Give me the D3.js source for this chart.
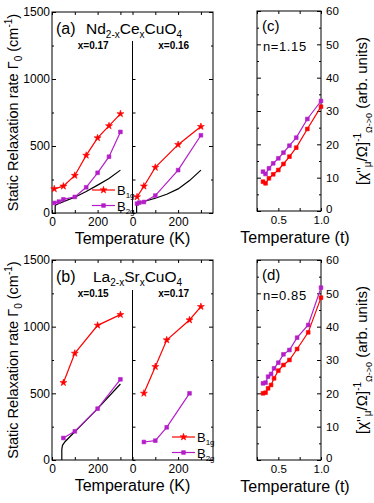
<!DOCTYPE html>
<html>
<head>
<meta charset="utf-8">
<script src="https://cdn.jsdelivr.net/npm/d3@7"></script>
<style>
  body { margin: 0; background: #fff; }
  svg { display: block; font-family: "Liberation Sans", Arial, sans-serif; }
</style>
</head>
<body>
<svg id="chart" width="374" height="503"></svg>
<script>
// (a) Nd2-xCexCuO4, x=0.17
const ncco17T_b1g = [10, 50, 100, 150, 200, 250, 300];
const ncco17_b1g  = [180, 200, 280, 430, 560, 650, 740];
const ncco17T_b2g = [10, 30, 50, 100, 150, 200, 250, 300];
const ncco17_b2g  = [75, 85, 102, 120, 192, 300, 420, 605];
const ncco17T_fit = [14, 14, 18, 50, 100, 150, 200, 250, 300];
const ncco17_fit  = [0, 52, 62, 85, 118, 160, 208, 258, 320];
// (a) x=0.16
const ncco16T_b1g = [20, 50, 100, 200, 300];
const ncco16_b1g  = [120, 200, 340, 510, 645];
const ncco16T_b2g = [20, 30, 50, 100, 200, 300];
const ncco16_b2g  = [70, 78, 82, 130, 320, 580];
const ncco16T_fit = [18, 18, 22, 50, 100, 150, 200, 250, 300];
const ncco16_fit  = [0, 55, 66, 87, 110, 140, 180, 242, 320];

// (b) La2-xSrxCuO4, x=0.15
const lsco15T_b1g = [50, 100, 200, 300];
const lsco15_b1g  = [580, 800, 1010, 1090];
const lsco15T_b2g = [50, 100, 200, 300];
const lsco15_b2g  = [165, 215, 385, 605];
const lsco15T_fit = [43, 43, 46, 57, 100, 200, 300];
const lsco15_fit  = [0, 80, 110, 137, 212, 385, 570];
// (b) x=0.17
const lsco17T_b1g = [50, 100, 150, 250, 300];
const lsco17_b1g  = [500, 700, 900, 1050, 1150];
const lsco17T_b2g = [50, 100, 150, 250];
const lsco17_b2g  = [135, 145, 245, 500];

// (c) n=1.15
const tC      = [0.32, 0.35, 0.39, 0.44, 0.5, 0.56, 0.63, 0.71, 0.84, 1.0];
const cB2g    = [11.8, 11.1, 12.8, 14.3, 15.8, 17.5, 19.6, 22.0, 27.6, 33.0];
const cB1g    = [8.8, 8.3, 9.8, 11.0, 12.3, 14.1, 16.3, 19.0, 24.6, 31.3];
// (d) n=0.85
const tD      = [0.32, 0.35, 0.38, 0.415, 0.45, 0.5, 0.56, 0.63, 0.72, 0.85, 1.0];
const dB2g    = [23.0, 23.2, 25.0, 25.8, 27.5, 29.2, 31.7, 33.0, 36.7, 40.5, 51.7];
const dB1g    = [20.0, 20.2, 21.5, 22.5, 24.5, 26.8, 28.5, 30.0, 33.3, 38.3, 48.7];

const kTicks = [0, 100, 200, 300];
const kLabels = [0, 200];
const gammaTicks = [0, 250, 500, 750, 1000, 1250, 1500];
const gammaLabels = [0, 500, 1000, 1500];
const tTicks = [0.25, 0.5, 0.75, 1.0];
const tLabels = [0.5, 1.0];
const chiTicks = [0, 5, 10, 15, 20, 25, 30, 35, 40, 45, 50, 55, 60];
const chiLabels = [0, 10, 20, 30, 40, 50, 60];

const RED = "#ff0000";
const PURPLE = "#b41ec8";
const STAR = 15, SQUARE = 14;

const svg = d3.select("#chart");
const zip = (xs, ys) => xs.map((x, i) => [x, ys[i]]);

function series(g, x, y, pts, color, shape, withMarks) {
  const line = d3.line().x(d => x(d[0])).y(d => y(d[1]));
  g.append("path").attr("d", line(pts)).attr("fill", "none")
    .attr("stroke", color).attr("stroke-width", 1.2);
  if (!withMarks) return;
  const sym = d3.symbol().type(shape === "star" ? d3.symbolStar : d3.symbolSquare)
    .size(shape === "star" ? STAR : SQUARE);
  g.selectAll(null).data(pts).enter().append("path")
    .attr("d", sym)
    .attr("transform", d => `translate(${x(d[0])},${y(d[1])})`)
    .attr("fill", color).attr("stroke", color).attr("stroke-width", 0.6);
}

function legend(g, x0, y0) {
  const items = [["1g", RED, d3.symbolStar, STAR], ["2g", PURPLE, d3.symbolSquare, SQUARE]];
  items.forEach((it, i) => {
    const yy = y0 + i * 15.5;
    g.append("line").attr("x1", x0).attr("x2", x0 + 23).attr("y1", yy).attr("y2", yy)
      .attr("stroke", it[1]).attr("stroke-width", 1.2);
    g.append("path").attr("d", d3.symbol().type(it[2]).size(it[3]))
      .attr("transform", `translate(${x0 + 11.5},${yy})`)
      .attr("fill", it[1]).attr("stroke", it[1]).attr("stroke-width", 0.6);
    const t = g.append("text").attr("x", x0 + 25).attr("y", yy + 5)
      .attr("font-size", 13).text("B");
    t.append("tspan").attr("font-size", 8).attr("dy", 3).text(it[0]);
  });
}

// panel with two temperature (K) subpanels
function kPanel(opts) {
  const { left, mid, right, top, bottom } = opts;
  const y = d3.scaleLinear().domain([0, 1500]).range([bottom, top]);
  const xL = d3.scaleLinear().domain([0, 353]).range([left, mid]);
  const xR = d3.scaleLinear().domain([0, 353]).range([mid, right]);
  const g = svg.append("g");

  [xL, xR].forEach(x => {
    g.append("g").attr("transform", `translate(0,${bottom})`)
      .call(d3.axisBottom(x).tickValues(kTicks).tickSize(-3).tickPadding(4)
        .tickFormat(d => kLabels.includes(d) ? d : ""))
      .call(a => a.select(".domain").remove())
      .call(a => a.selectAll("text").attr("font-size", 12).attr("fill", "#000"));
    g.append("g").attr("transform", `translate(0,${top})`)
      .call(d3.axisTop(x).tickValues(kTicks).tickSize(-3).tickFormat(""))
      .call(a => a.select(".domain").remove());
  });

  g.append("g").attr("transform", `translate(${left},0)`)
    .call(d3.axisLeft(y).tickValues(gammaTicks).tickSize(-4).tickPadding(2)
      .tickFormat(d => gammaLabels.includes(d) ? d : ""))
    .call(a => a.select(".domain").remove())
    .call(a => a.selectAll("line").attr("x2", d => gammaLabels.includes(d) ? 4 : 2))
    .call(a => a.selectAll("text").attr("font-size", 12).attr("fill", "#000"));
  g.append("g").attr("transform", `translate(${right},0)`)
    .call(d3.axisRight(y).tickValues(gammaTicks).tickSize(-4).tickFormat(""))
    .call(a => a.select(".domain").remove())
    .call(a => a.selectAll("line").attr("x2", d => gammaLabels.includes(d) ? -4 : -2));
  g.append("g").attr("transform", `translate(${mid},0)`)
    .call(d3.axisRight(y).tickValues(gammaTicks.filter(v => v < 1250)).tickSize(3).tickFormat(""))
    .call(a => a.select(".domain").remove());

  g.append("rect").attr("x", left).attr("y", top).attr("width", right - left)
    .attr("height", bottom - top).attr("fill", "none").attr("stroke", "#000");
  g.append("line").attr("x1", mid).attr("x2", mid).attr("y1", opts.divTop).attr("y2", bottom)
    .attr("stroke", "#000");

  opts.fits.forEach(f => series(g, f.side === "L" ? xL : xR, y, f.pts, "#000", null, false));
  opts.data.forEach(s => series(g, s.side === "L" ? xL : xR, y, s.pts, s.color, s.shape, true));

  // sample labels
  opts.samples.forEach(s => {
    g.append("text").attr("x", (s.side === "L" ? (left + mid) / 2 : (mid + right) / 2) + 1)
      .attr("y", top + 37).attr("text-anchor", "middle")
      .attr("font-size", 10).attr("font-weight", "bold").text(s.label);
  });

  // panel title
  g.append("text").attr("x", left + 4).attr("y", top + 22).attr("font-size", 16).text(opts.tag);
  const f = g.append("text").attr("x", opts.formulaX).attr("y", top + 22).attr("font-size", 15.5);
  opts.formula.forEach(p => {
    if (p[1]) f.append("tspan").attr("font-size", 10).attr("dy", 4).text(p[0]);
    else f.append("tspan").attr("dy", p[2] || 0).text(p[0]);
  });

  // axis titles
  const yt = g.append("text")
    .attr("transform", `translate(18,${(top + bottom) / 2}) rotate(-90)`)
    .attr("text-anchor", "middle").attr("font-size", 14.5);
  yt.append("tspan").text("Static Relaxation rate \u0393");
  yt.append("tspan").attr("font-size", 10).attr("dy", 4).text("0");
  yt.append("tspan").attr("dy", -4).text(" (cm");
  yt.append("tspan").attr("font-size", 10).attr("dy", -6).text("-1");
  yt.append("tspan").attr("dy", 6).text(")");

  g.append("text").attr("x", (left + right) / 2).attr("y", bottom + 31)
    .attr("text-anchor", "middle").attr("font-size", 16).text("Temperature (K)");

  return { g, xL, xR, y };
}

function tPanel(opts) {
  const { left, right, top, bottom } = opts;
  const x = d3.scaleLinear().domain([0.25, 1.0]).range([left, right]);
  const y = d3.scaleLinear().domain([0, 60]).range([bottom, top]);
  const g = svg.append("g");

  g.append("g").attr("transform", `translate(0,${bottom})`)
    .call(d3.axisBottom(x).tickValues(tTicks).tickSize(-3).tickPadding(5)
      .tickFormat(d => tLabels.includes(d) ? d3.format(".1f")(d) : ""))
    .call(a => a.select(".domain").remove())
    .call(a => a.selectAll("text").attr("font-size", 11.5).attr("fill", "#000"));
  g.append("g").attr("transform", `translate(0,${top})`)
    .call(d3.axisTop(x).tickValues(tTicks).tickSize(-3).tickFormat(""))
    .call(a => a.select(".domain").remove());
  g.append("g").attr("transform", `translate(${right},0)`)
    .call(d3.axisRight(y).tickValues(chiTicks).tickSize(-3).tickPadding(5)
      .tickFormat(d => chiLabels.includes(d) ? d : ""))
    .call(a => a.select(".domain").remove())
    .call(a => a.selectAll("line").attr("x2", d => chiLabels.includes(d) ? -4 : -2))
    .call(a => a.selectAll("text").attr("font-size", 11.5).attr("fill", "#000")
      .attr("dy", d => d === 0 ? "0.1em" : "0.32em"));
  g.append("g").attr("transform", `translate(${left},0)`)
    .call(d3.axisLeft(y).tickValues(chiTicks).tickSize(-3).tickFormat(""))
    .call(a => a.select(".domain").remove())
    .call(a => a.selectAll("line").attr("x2", d => chiLabels.includes(d) ? 4 : 2));

  g.append("rect").attr("x", left).attr("y", top).attr("width", right - left)
    .attr("height", bottom - top).attr("fill", "none").attr("stroke", "#000");

  opts.data.forEach(s => series(g, x, y, s.pts, s.color, "square", true));

  g.append("text").attr("x", left + 5).attr("y", top + 20).attr("font-size", 15).text(opts.tag);
  g.append("text").attr("x", left + 6).attr("y", top + 40).attr("font-size", 13)
    .attr("letter-spacing", 0.6).text(opts.n);

  const yt = g.append("text")
    .attr("transform", `translate(367,${top + 100}) rotate(-90)`)
    .attr("text-anchor", "middle").attr("font-size", 15);
  yt.append("tspan").text("[\u03c7''");
  yt.append("tspan").attr("font-size", 10).attr("dy", 4).text("\u03bc");
  yt.append("tspan").attr("dy", -4).text("/\u03a9]");
  yt.append("tspan").attr("font-size", 10).attr("dy", -6).text("-1");
  yt.append("tspan").attr("font-size", 9).attr("dy", 11).text("\u03a9->0");
  yt.append("tspan").attr("dy", -5).text(" (arb. units)");

  g.append("text").attr("x", 295).attr("y", bottom + 32)
    .attr("text-anchor", "middle").attr("font-size", 16).text("Temperature (t)");
}

const pa = kPanel({
  left: 52, mid: 132.5, right: 213, top: 12, bottom: 213, divTop: 41,
  tag: "(a)", formulaX: 86,
  formula: [["Nd"], ["2-x", true], ["Ce", false, -4], ["x", true], ["CuO", false, -4], ["4", true]],
  samples: [{ side: "L", label: "x=0.17" }, { side: "R", label: "x=0.16" }],
  fits: [{ side: "L", pts: zip(ncco17T_fit, ncco17_fit) }, { side: "R", pts: zip(ncco16T_fit, ncco16_fit) }],
  data: [
    { side: "L", pts: zip(ncco17T_b1g, ncco17_b1g), color: RED, shape: "star" },
    { side: "L", pts: zip(ncco17T_b2g, ncco17_b2g), color: PURPLE, shape: "square" },
    { side: "R", pts: zip(ncco16T_b1g, ncco16_b1g), color: RED, shape: "star" },
    { side: "R", pts: zip(ncco16T_b2g, ncco16_b2g), color: PURPLE, shape: "square" }
  ]
});
legend(pa.g, 92, 190);

const pb = kPanel({
  left: 52, mid: 132.5, right: 213, top: 260, bottom: 460, divTop: 290,
  tag: "(b)", formulaX: 93,
  formula: [["La"], ["2-x", true], ["Sr", false, -4], ["x", true], ["CuO", false, -4], ["4", true]],
  samples: [{ side: "L", label: "x=0.15" }, { side: "R", label: "x=0.17" }],
  fits: [{ side: "L", pts: zip(lsco15T_fit, lsco15_fit) }],
  data: [
    { side: "L", pts: zip(lsco15T_b1g, lsco15_b1g), color: RED, shape: "star" },
    { side: "L", pts: zip(lsco15T_b2g, lsco15_b2g), color: PURPLE, shape: "square" },
    { side: "R", pts: zip(lsco17T_b1g, lsco17_b1g), color: RED, shape: "star" },
    { side: "R", pts: zip(lsco17T_b2g, lsco17_b2g), color: PURPLE, shape: "square" }
  ]
});
legend(pb.g, 172, 437);

tPanel({
  left: 257, right: 321, top: 11, bottom: 211, tag: "(c)", n: "n=1.15",
  data: [{ pts: zip(tC, cB2g), color: PURPLE }, { pts: zip(tC, cB1g), color: RED }]
});
tPanel({
  left: 257, right: 321, top: 260, bottom: 460, tag: "(d)", n: "n=0.85",
  data: [{ pts: zip(tD, dB2g), color: PURPLE }, { pts: zip(tD, dB1g), color: RED }]
});
</script>
</body>
</html>
